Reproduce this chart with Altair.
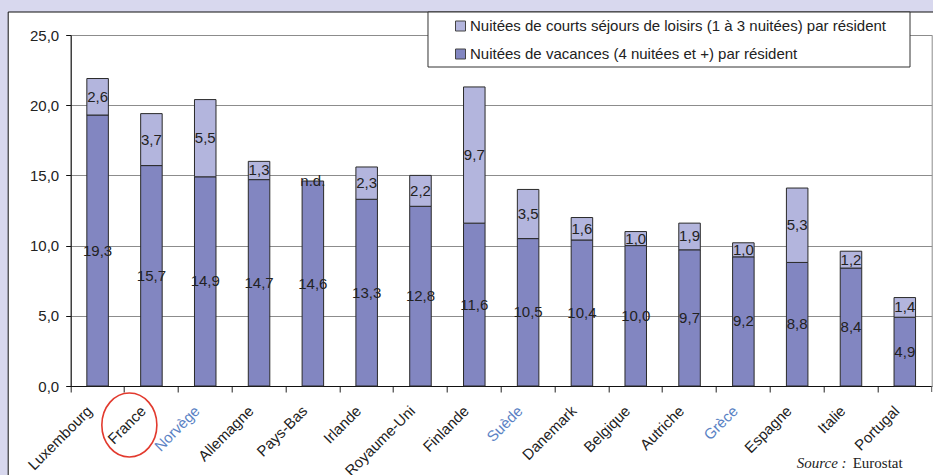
import altair as alt
import pandas as pd

pays = ["Luxembourg", "France", "Norvège", "Allemagne", "Pays-Bas", "Irlande",
        "Royaume-Uni", "Finlande", "Suède", "Danemark", "Belgique", "Autriche",
        "Grèce", "Espagne", "Italie", "Portugal"]
vacances = [19.3, 15.7, 14.9, 14.7, 14.6, 13.3, 12.8, 11.6, 10.5, 10.4, 10.0, 9.7,
            9.2, 8.8, 8.4, 4.9]
courts = [2.6, 3.7, 5.5, 1.3, None, 2.3, 2.2, 9.7, 3.5, 1.6, 1.0, 1.9, 1.0, 5.3,
          1.2, 1.4]
pays_bleus = ["Norvège", "Suède", "Grèce"]

S_COURT = "Nuitées de courts séjours de loisirs (1 à 3 nuitées) par résident"
S_VAC = "Nuitées de vacances (4 nuitées et +) par résident"
LIGHT = "#b3b5dd"
DARK = "#8286c1"
FONT = "Liberation Sans"

def fmt(v):
    return f"{v:.1f}".replace(".", ",")

rows = []
for i, p in enumerate(pays):
    v = vacances[i]
    c = courts[i]
    rows.append({"pays": p, "serie": S_VAC, "start": 0.0, "end": v,
                 "mid": v / 2, "label": fmt(v)})
    if c is None:
        rows.append({"pays": p, "serie": S_COURT, "start": v, "end": v,
                     "mid": v, "label": "n.d."})
    else:
        rows.append({"pays": p, "serie": S_COURT, "start": v, "end": v + c,
                     "mid": v + c / 2, "label": fmt(c)})
df = pd.DataFrame(rows)

W, H = 861, 351
PL, PT = 70.7, 35
PAD_IN, PAD_OUT = 0.6, 0.3

blue_expr = "indexof(" + str(pays_bleus) + ", datum.value) >= 0 ? '#5a82c4' : '#222'"

xenc = alt.X("pays:N", sort=pays, title=None,
             scale=alt.Scale(paddingInner=PAD_IN, paddingOuter=PAD_OUT),
             axis=alt.Axis(labelAngle=-45, labelAlign="right", labelBaseline="middle",
                           labelFontSize=15, labelFont=FONT,
                           labelColor=alt.ExprRef(blue_expr),
                           labelPadding=16, labelOffset=-8,
                           bandPosition=-0.75, tickSize=6, tickColor="#222",
                           domainColor="#111", grid=False))

yscale = alt.Scale(domain=[0, 25])

bars = alt.Chart(df[df["end"] > df["start"]]).mark_bar(
    stroke="#2a2a2a", strokeWidth=1
).encode(
    x=xenc,
    y=alt.Y("start:Q", scale=yscale, title=None,
            axis=alt.Axis(values=[0, 5, 10, 15, 20, 25],
                          labelExpr="replace(format(datum.value, '.1f'), '.', ',')",
                          labelFontSize=15, labelFont=FONT, labelColor="#222",
                          tickSize=5, tickColor="#111", domainColor="#111",
                          labelPadding=7, grid=True, gridColor="#8c8c8c",
                          gridWidth=1)),
    y2="end:Q",
    color=alt.Color("serie:N", scale=alt.Scale(domain=[S_COURT, S_VAC], range=[LIGHT, DARK]),
                    legend=alt.Legend(orient="none", legendX=382.3, legendY=-16.5,
                                      title=None, symbolType="square", symbolSize=100,
                                      symbolStrokeColor="#444", symbolStrokeWidth=1,
                                      symbolOpacity=1,
                                      labelFontSize=15, labelFont=FONT, labelColor="#222",
                                      labelLimit=700, rowPadding=12, padding=0,
                                      labelOffset=2)),
)

texts = alt.Chart(df).mark_text(
    font=FONT, fontSize=15, color="#222", baseline="middle", align="center"
).encode(
    x=alt.X("pays:N", sort=pays),
    y=alt.Y("mid:Q", scale=yscale),
    text="label:N",
)

one = pd.DataFrame({"k": [0]})

layers = []
# lavender strips of the outer frame
for (x1, x2, y1, y2) in [(-PL, -62.5, -PT, 475 - PT), (-PL, 933 - PL, -PT, 12 - PT)]:
    layers.append(alt.Chart(one).mark_rect(fill="#d8d8ee", strokeWidth=0).encode(
        x=alt.value(x1), x2=alt.value(x2), y=alt.value(y1), y2=alt.value(y2)))
# black panel border
layers.append(alt.Chart(one).mark_rule(color="#111", strokeWidth=1).encode(
    x=alt.value(-62.5), y=alt.value(12 - PT), y2=alt.value(475 - PT)))
layers.append(alt.Chart(one).mark_rule(color="#111", strokeWidth=1).encode(
    x=alt.value(-62.5), x2=alt.value(933 - PL), y=alt.value(12 - PT)))
# last x tick at the right end of the axis
layers.append(alt.Chart(one).mark_rule(color="#555", strokeWidth=1).encode(
    x=alt.value(W), y=alt.value(H), y2=alt.value(H + 6)))

# legend box
legend_box = alt.Chart(one).mark_rect(fill="white", stroke="#333", strokeWidth=1).encode(
    x=alt.value(428 - PL), x2=alt.value(910 - PL), y=alt.value(12 - PT), y2=alt.value(67 - PT))

# red circle around France
ell = "M -0.86 0 A 0.86 1 0 1 0 0.86 0 A 0.86 1 0 1 0 -0.86 0 Z"
circle = alt.Chart(pd.DataFrame({"pays": ["France"]})).mark_point(
    shape=ell, size=4096, filled=False, stroke="#e23a2e", strokeWidth=1.6, opacity=1
).encode(
    x=alt.X("pays:N", sort=pays),
    xOffset=alt.value(-11.3),
    y=alt.value(425 - PT),
)

src1 = alt.Chart(one).mark_text(text="Source :", font="Liberation Serif", fontStyle="italic",
                                fontSize=15, color="#222", align="left", baseline="middle").encode(
    x=alt.value(796.7 - PL), y=alt.value(463 - PT))
src2 = alt.Chart(one).mark_text(text="Eurostat", font="Liberation Serif",
                                fontSize=15, color="#222", align="left", baseline="middle").encode(
    x=alt.value(852.7 - PL), y=alt.value(463 - PT))

chart = alt.layer(*layers, legend_box, bars, texts, circle, src1, src2).properties(
    width=W, height=H,
    autosize=alt.AutoSizeParams(type="none"),
    padding={"left": PL, "top": PT, "right": 933 - PL - W, "bottom": 475 - PT - H},
    background="white",
).configure_view(stroke="#8c8c8c", strokeWidth=1)

chart.save("out.html", embed_options={"renderer": "svg", "actions": False})
